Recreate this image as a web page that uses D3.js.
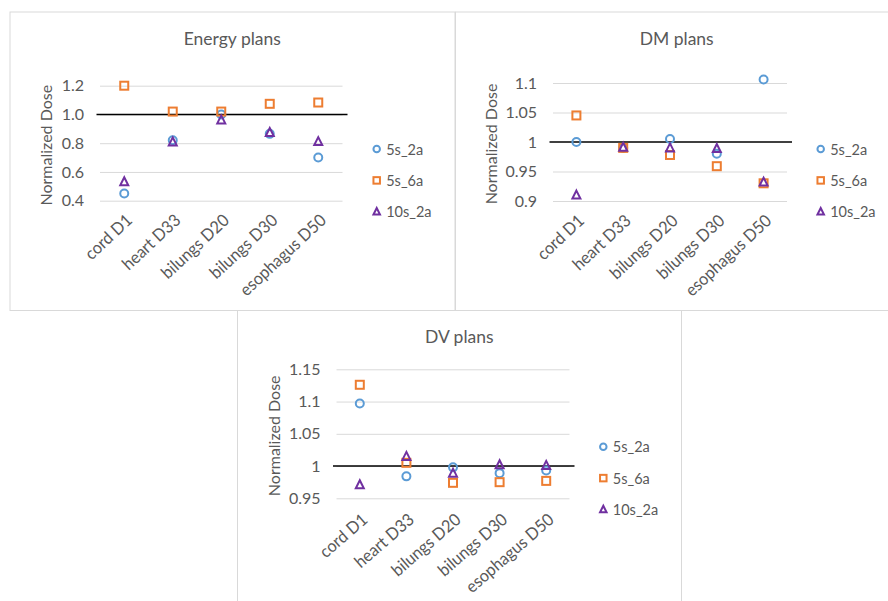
<!DOCTYPE html>
<html>
<head>
<meta charset="utf-8">
<script src="https://cdn.jsdelivr.net/npm/d3@7"></script>
<style>
  body { margin: 0; background: #fff; }
  svg { display: block; font-family: Lato, "Open Sans", sans-serif; }
</style>
</head>
<body>
<svg id="chart" width="888" height="601"></svg>
<script>
// categories and series
let categories = ["cord D1", "heart D33", "bilungs D20", "bilungs D30", "esophagus D50"];
let seriesNames = ["5s_2a", "5s_6a", "10s_2a"];

let energy5s2a = [0.45, 0.82, 1.00, 0.865, 0.70];
let energy5s6a = [1.20, 1.02, 1.02, 1.074, 1.083];
let energy10s2a = [0.532, 0.809, 0.962, 0.874, 0.811];

let dm5s2a = [1.0, 0.99, 1.005, 0.98, 1.106];
let dm5s6a = [1.045, 0.99, 0.978, 0.959, 0.930];
let dm10s2a = [0.91, 0.991, 0.99, 0.989, 0.932];

let dv5s2a = [1.097, 0.984, 0.998, 0.989, 0.993];
let dv5s6a = [1.126, 1.005, 0.974, 0.975, 0.977];
let dv10s2a = [0.971, 1.015, 0.989, 1.002, 1.001];

let energyTicks = [0.4, 0.6, 0.8, 1.0, 1.2];
let dmTicks = [0.9, 0.95, 1, 1.05, 1.1];
let dvTicks = [0.95, 1, 1.05, 1.1, 1.15];

let colors = ["#5B9BD5", "#ED7D31", "#7030A0"];
let textColor = "#595959";

let svg = d3.select("#chart");

// panel frames
let frames = [
    {x: 10, y: 12, w: 445, h: 298.5},
    {x: 455.5, y: 12, w: 440, h: 298.5},
    {x: 237.5, y: 310.5, w: 444, h: 300}
];
svg.selectAll("rect.frame")
    .data(frames)
    .enter().append("rect")
    .attr("class", "frame")
    .attr("x", d => d.x).attr("y", d => d.y)
    .attr("width", d => d.w).attr("height", d => d.h)
    .attr("fill", "none")
    .attr("stroke", "#D9D9D9")
    .attr("stroke-width", 1);

function drawMarker(g, i, x, y, s) {
    // s = outer size of the marker
    if (i === 0) {
        g.append("circle")
            .attr("cx", x).attr("cy", y).attr("r", s / 2 - 1)
            .attr("fill", "none").attr("stroke", colors[i]).attr("stroke-width", 2);
    } else if (i === 1) {
        g.append("rect")
            .attr("x", x - s / 2 + 1).attr("y", y - s / 2 + 1)
            .attr("width", s - 2).attr("height", s - 2)
            .attr("fill", "none").attr("stroke", colors[i]).attr("stroke-width", 2);
    } else {
        let h = s - 2;
        g.append("path")
            .attr("d", `M${x},${y - h / 2 - 0.5}L${x + h / 2},${y + h / 2 - 0.5}L${x - h / 2},${y + h / 2 - 0.5}Z`)
            .attr("fill", "none").attr("stroke", colors[i]).attr("stroke-width", 2);
    }
}

function drawPanel(p) {
    let g = svg.append("g");

    let x = d3.scalePoint()
        .domain(categories)
        .range([p.x0, p.x1])
        .padding(0.5);
    let y = d3.scaleLinear()
        .domain(p.domain)
        .range([p.yBot, p.yTop]);

    // gridlines + tick labels
    let yAxis = g.append("g")
        .attr("transform", `translate(${p.x0},0)`)
        .call(d3.axisLeft(y).tickValues(p.ticks).tickFormat(p.format)
            .tickSize(-(p.x1 - p.x0)).tickPadding(16));
    yAxis.select(".domain").remove();
    yAxis.selectAll(".tick line").attr("stroke", "#D9D9D9").attr("stroke-width", 1);
    yAxis.selectAll(".tick text")
        .attr("fill", textColor)
        .style("font-size", "16px")
        .style("font-family", "Lato, sans-serif");

    // reference line at 1
    g.append("line")
        .attr("x1", p.x0 - 3.5).attr("x2", p.x1 + 5)
        .attr("y1", y(1)).attr("y2", y(1))
        .attr("stroke", p.refColor).attr("stroke-width", p.refWidth);

    // category labels (narrowed a little to get Calibri-like widths)
    g.selectAll("text.cat")
        .data(categories)
        .enter().append("text")
        .attr("class", "cat")
        .attr("text-anchor", "end")
        .attr("transform", d => `translate(${x(d) + 9},${p.yBot + p.catDy}) rotate(${p.catAngle}) scale(0.95,1)`)
        .attr("fill", textColor)
        .style("font-size", "17px")
        .text(d => d);

    // markers
    p.series.forEach((vals, i) => {
        let sg = g.append("g");
        vals.forEach((v, j) => drawMarker(sg, i, x(categories[j]), y(v), 10));
    });

    // title
    g.append("text")
        .attr("x", p.titleX).attr("y", p.titleY)
        .attr("text-anchor", "middle")
        .attr("dominant-baseline", "central")
        .attr("fill", textColor)
        .style("font-size", "17.5px")
        .text(p.title);

    // y axis title
    g.append("text")
        .attr("transform", `translate(${p.axisTitleX},${(p.yTop + p.yBot) / 2 + 2}) rotate(-90)`)
        .attr("text-anchor", "middle")
        .attr("dominant-baseline", "central")
        .attr("fill", textColor)
        .style("font-size", "16px")
        .text("Normalized Dose");

    // legend
    seriesNames.forEach((name, i) => {
        let ly = p.legendY + i * 31.4;
        drawMarker(g, i, p.legendX, ly, 8.5);
        g.append("text")
            .attr("x", p.legendX + 9.5).attr("y", ly)
            .attr("dominant-baseline", "central")
            .attr("fill", textColor)
            .style("font-size", "14.5px")
            .text(name);
    });
}

drawPanel({
    title: "Energy plans", titleX: 232.3, titleY: 38.3,
    x0: 100, x1: 342.5, yTop: 85.7, yBot: 200.7,
    domain: [0.4, 1.2], ticks: energyTicks, format: d3.format(".1f"),
    series: [energy5s2a, energy5s6a, energy10s2a],
    refColor: "#000", refWidth: 1.5,
    catDy: 21, catAngle: -43,
    axisTitleX: 45.7,
    legendX: 376.7, legendY: 149
});

drawPanel({
    title: "DM plans", titleX: 676.7, titleY: 38.3,
    x0: 553, x1: 787, yTop: 83, yBot: 201,
    domain: [0.9, 1.1], ticks: dmTicks, format: d => String(+d.toFixed(2)),
    series: [dm5s2a, dm5s6a, dm10s2a],
    refColor: "#404040", refWidth: 2,
    catDy: 21, catAngle: -43,
    axisTitleX: 490,
    legendX: 820.7, legendY: 149
});

drawPanel({
    title: "DV plans", titleX: 459.3, titleY: 336,
    x0: 336.5, x1: 569.5, yTop: 369.3, yBot: 498.3,
    domain: [0.95, 1.15], ticks: dvTicks, format: d => String(+d.toFixed(2)),
    series: [dv5s2a, dv5s6a, dv10s2a],
    refColor: "#000", refWidth: 1.5,
    catDy: 23, catAngle: -41,
    axisTitleX: 273.3,
    legendX: 603.3, legendY: 446.7
});
</script>
</body>
</html>
